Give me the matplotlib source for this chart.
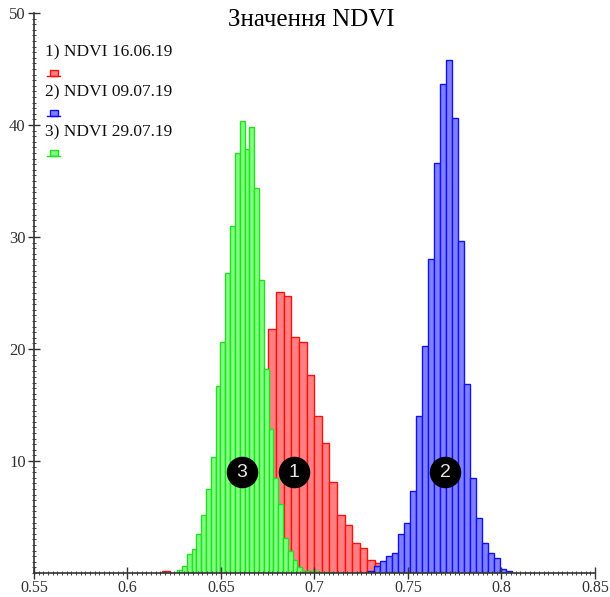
import matplotlib
matplotlib.use("Agg")
import matplotlib.pyplot as plt
import numpy as np
from matplotlib.patches import Rectangle
from matplotlib.ticker import MultipleLocator

# histogram data (bin start, bin width, counts)
red_start = 0.6184
red_width = 0.00407
red_counts = [0.2, 0, 0.1, 0.4, 1.0, 2.0, 3.5, 5.5, 8, 11, 14, 16.5, 18, 17,
              21.8, 25.1, 24.7, 21.1, 20.6, 17.7, 14.0, 11.6, 8.1, 5.2, 4.3,
              2.7, 2.2, 1.2, 0.9]

blue_start = 0.7286
blue_width = 0.0032
blue_counts = [0.2, 0.6, 1.1, 1.5, 1.8, 3.5, 4.5, 7.3, 14.0, 20.3, 28.0, 36.6,
               43.7, 45.8, 40.6, 29.6, 16.9, 8.5, 4.9, 2.7, 1.8, 1.3, 0.4, 0.2]

green_start = 0.6266
green_width = 0.00257
green_counts = [0.3, 0.6, 1.7, 2.1, 3.5, 5.2, 7.5, 10.4, 16.7, 20.6, 26.8, 31.0,
                37.5, 40.4, 37.9, 39.8, 34.4, 26.2, 18.2, 12.9, 8.5, 6.2, 3.1,
                2.0, 1.2, 0.5, 0.2, 0.2, 0.2, 0.1, 0.1, 0.1]

labels = ["1) NDVI 16.06.19", "2) NDVI 09.07.19", "3) NDVI 29.07.19"]
marker_names = ["1", "2", "3"]
marker_x = [0.689, 0.7698, 0.6611]
marker_y = [9.0, 9.0, 9.0]

series = [
    (red_start, red_width, red_counts, "#ff8080", "#ff1010"),
    (blue_start, blue_width, blue_counts, "#8080ff", "#1010ff"),
    (green_start, green_width, green_counts, "#80ff80", "#20e020"),
]

plt.rcParams["font.family"] = ["Liberation Serif", "DejaVu Serif"]

fig = plt.figure(figsize=(6.1, 5.97), dpi=100)
ax = fig.add_axes([0.0557, 0.0402, 0.9197, 0.938])

for start, width, counts, fill, edge in series:
    lefts = start + width * np.arange(len(counts))
    ax.bar(lefts, counts, width=width, align="edge", color=fill,
           edgecolor=edge, linewidth=1.0)

# numbered markers
ax.scatter(marker_x, marker_y, s=470, color="black", zorder=5)
for name, mx, my in zip(marker_names, marker_x, marker_y):
    ax.text(mx, my, name, color="#e8e8e8", fontsize=14, ha="center",
            va="center", family=["Liberation Sans", "DejaVu Sans"], zorder=6)

ax.set_xlim(0.55, 0.85)
ax.set_ylim(0, 50)
ax.set_xticks([0.55, 0.6, 0.65, 0.7, 0.75, 0.8, 0.85])
ax.set_xticklabels(["0.55", "0.6", "0.65", "0.7", "0.75", "0.8", "0.85"])
ax.set_yticks([10, 20, 30, 40, 50])
ax.xaxis.set_minor_locator(MultipleLocator(0.0025))
ax.yaxis.set_minor_locator(MultipleLocator(0.5))
ax.tick_params(which="major", direction="inout", length=8, width=1,
               labelsize=12, colors="#333333", pad=2)
ax.tick_params(axis="x", which="major", labelsize=11.5, pad=1)
ax.tick_params(which="minor", direction="inout", length=2.5, width=0.7,
               colors="#444444")
for side in ["top", "right"]:
    ax.spines[side].set_visible(False)
for side in ["left", "bottom"]:
    ax.spines[side].set_color("#333333")
    ax.spines[side].set_linewidth(1.2)
ax.patch.set_alpha(0)

fig.text(0.511, 0.966, "Значення NDVI", ha="center", va="center", fontsize=18)

# legend: label text with a small bar icon below
text_y = [0.930, 0.859, 0.786]
icon_y = [0.888, 0.816, 0.745]
for lab, ty, iy, (_, _, _, fill, edge) in zip(labels, text_y, icon_y, series):
    ax.text(0.0196, ty, lab, transform=ax.transAxes, fontsize=12.5,
            va="center", ha="left", color="#111111")
    ax.add_patch(Rectangle((0.0285, iy), 0.014, 0.010, transform=ax.transAxes,
                           facecolor=fill, edgecolor=edge, linewidth=1.0))
    ax.plot([0.024, 0.047], [iy, iy], transform=ax.transAxes, color=edge,
            linewidth=1.0)

fig.savefig("out.png", dpi=100)
